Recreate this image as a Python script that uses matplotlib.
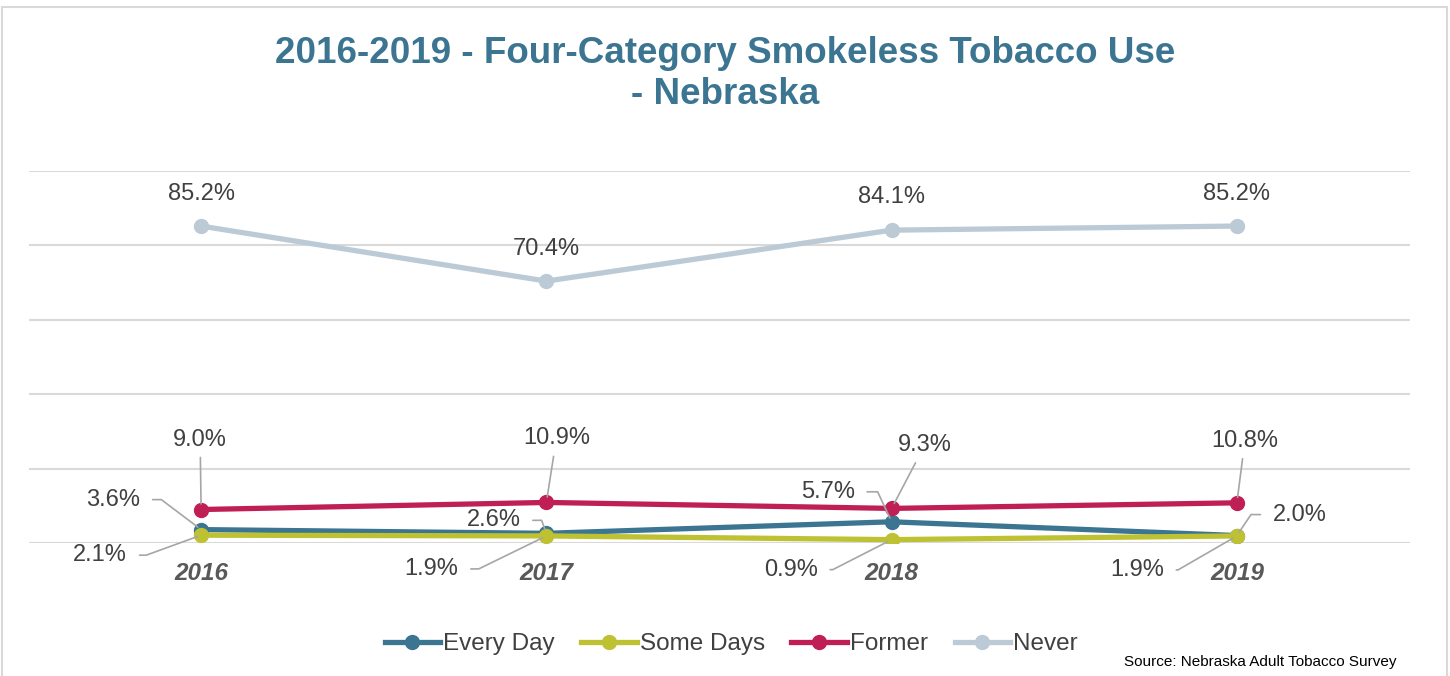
import matplotlib
matplotlib.use("Agg")
import matplotlib.pyplot as plt
from matplotlib.lines import Line2D
from matplotlib.patches import Rectangle

plt.rcParams["font.family"] = ["Liberation Sans", "DejaVu Sans"]

years = ["2016", "2017", "2018", "2019"]
every_day = [3.6, 2.6, 5.7, 2.0]
some_days = [2.1, 1.9, 0.9, 1.9]
former = [9.0, 10.9, 9.3, 10.8]
never = [85.2, 70.4, 84.1, 85.2]

series = [
    ("Every Day", every_day, "#3B7592"),
    ("Some Days", some_days, "#BEC232"),
    ("Former", former, "#C01F56"),
    ("Never", never, "#BCCAD6"),
]

# label placement: offset of text centre from point (px), leader angle at point
label_pos = {
    "Every Day": [(-88, 30, 143), (-53, 13, 110), (-64, 30, 115), (63, 21, 56)],
    "Some Days": [(-101, -20, 20), (-115, -33, 26), (-101, -30, 27), (-100, -34, 30)],
    "Former": [(-1, 70, "s"), (10, 64, "s"), (33, 63, "s"), (8, 62, "s")],
    "Never": [(0, 32, None), (0, 32, None), (0, 33, None), (0, 32, None)],
}

fig = plt.figure(figsize=(14.5, 6.76), dpi=100)
ax = fig.add_axes([28.5 / 1450, (676 - 543) / 676, 1381 / 1450, 372 / 676])

x = list(range(len(years)))
for name, vals, color in series:
    ax.plot(x, vals, color=color, lw=3.8, marker="o", markersize=10,
            solid_capstyle="round", zorder=3)

for name, vals, color in series:
    for i, v in enumerate(vals):
        dx, dy, ang = label_pos[name][i]
        kw = {}
        if ang == "s":
            kw["arrowprops"] = dict(arrowstyle="-", color="#A6A6A6", lw=1.2,
                                    shrinkA=3, shrinkB=4)
        elif ang is not None:
            kw["arrowprops"] = dict(arrowstyle="-", color="#A6A6A6", lw=1.2,
                                    shrinkA=7, shrinkB=3,
                                    connectionstyle=f"angle,angleA=0,angleB={ang},rad=0")
        ax.annotate(f"{v:.1f}%", xy=(i, v), xytext=(dx, dy),
                    textcoords="offset pixels", ha="center", va="center",
                    fontsize=17, color="#404040", zorder=4, **kw)

ax.set_xlim(-0.5, 3.5)
ax.set_ylim(0, 100)
ax.set_yticks(range(0, 101, 20))
ax.yaxis.grid(True, color="#D9D9D9", lw=1.5)
ax.set_axisbelow(True)
ax.tick_params(left=False, labelleft=False, bottom=False, labelbottom=False)
for s in ax.spines.values():
    s.set_visible(False)

for i, yr in enumerate(years):
    ax.annotate(yr, xy=(i, 0), xytext=(0, -30), textcoords="offset pixels",
                ha="center", va="center", fontsize=17.5, fontweight="bold",
                fontstyle="italic", color="#595959")

fig.text(0.5, (676 - 74) / 676, "2016-2019 - Four-Category Smokeless Tobacco Use\n- Nebraska",
         ha="center", va="center", fontsize=26.5, fontweight="bold",
         color="#3B7592", linespacing=1.2)

handles = [Line2D([], [], color=c, lw=3.8, marker="o", markersize=10) for _, _, c in series]
fig.legend(handles, [n for n, _, _ in series], loc="center", ncol=4,
           bbox_to_anchor=(731 / 1450, (676 - 644) / 676), frameon=False,
           fontsize=17.5, handlelength=2.3, handletextpad=0.1, columnspacing=1.1,
           labelcolor="#404040")

fig.text(1397 / 1450, (676 - 662) / 676, "Source: Nebraska Adult Tobacco Survey",
         ha="right", va="center", fontsize=11, color="#000000")

fig.patches.append(Rectangle((2 / 1450, -0.1), 1445 / 1450, 1.1 - 7 / 676,
                             transform=fig.transFigure, fill=False,
                             edgecolor="#D9D9D9", lw=1.5))

fig.savefig("out.png", dpi=100)
